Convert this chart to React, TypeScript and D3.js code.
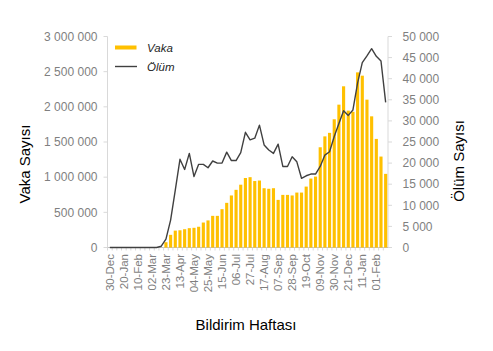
import React from "react";
import * as d3 from "d3";

// weekly notification weeks (30-Dec-2019 .. 15-Feb-2021)
const weeks = [
  "30-Dec", "06-Jan", "13-Jan", "20-Jan", "27-Jan", "03-Feb", "10-Feb", "17-Feb", "24-Feb", "02-Mar",
  "09-Mar", "16-Mar", "23-Mar", "30-Mar", "06-Apr", "13-Apr", "20-Apr", "27-Apr", "04-May", "11-May",
  "18-May", "25-May", "01-Jun", "08-Jun", "15-Jun", "22-Jun", "29-Jun", "06-Jul", "13-Jul", "20-Jul",
  "27-Jul", "03-Aug", "10-Aug", "17-Aug", "24-Aug", "31-Aug", "07-Sep", "14-Sep", "21-Sep", "28-Sep",
  "05-Oct", "12-Oct", "19-Oct", "26-Oct", "02-Nov", "09-Nov", "16-Nov", "23-Nov", "30-Nov", "07-Dec",
  "14-Dec", "21-Dec", "28-Dec", "04-Jan", "11-Jan", "18-Jan", "25-Jan", "01-Feb", "08-Feb", "15-Feb",
];

const vaka = [
  0, 0, 0, 0, 0, 0, 0, 0, 0, 0,
  0, 0, 75000, 180000, 240000, 245000, 260000, 275000, 280000, 295000,
  355000, 385000, 450000, 450000, 545000, 635000, 740000, 820000, 893000, 988000,
  1000000, 945000, 952000, 843000, 835000, 843000, 677000, 748000, 748000, 740000,
  781000, 781000, 866000, 980000, 1008000, 1425000, 1580000, 1630000, 1823000, 2031000,
  2292000, 1946000, 1930000, 2490000, 2443000, 2102000, 1865000, 1544000, 1293000, 1047000,
];

const olum = [
  0, 0, 0, 0, 0, 0, 0, 0, 0, 0,
  0, 300, 2000, 6500, 13600, 20900, 18500, 22300, 16800, 19700,
  19700, 18900, 20500, 20000, 20000, 22600, 20600, 20600, 22500, 27300,
  25500, 25900, 29000, 24300, 23100, 22300, 24500, 19200, 19200, 21500,
  20300, 16400, 17000, 17400, 17400, 19200, 21900, 22700, 26300, 29400,
  32400, 31300, 32600, 39000, 43800, 45400, 47100, 45300, 44200, 34400,
];

const leftTicks = [0, 500000, 1000000, 1500000, 2000000, 2500000, 3000000];
const rightTicks = [0, 5000, 10000, 15000, 20000, 25000, 30000, 35000, 40000, 45000, 50000];

const W = 493;
const H = 351;
const plot = { left: 107.5, right: 388, top: 36.5, bottom: 247.5 };
const FONT = "'Liberation Sans', Arial, sans-serif";
const fmt = (v: number) => d3.format(",")(v).replace(/,/g, " ");

export default function App() {
  const x = d3.scaleBand<string>().domain(weeks).range([plot.left, plot.right]).paddingInner(0.33).paddingOuter(0.165);
  const xc = d3.scaleBand<string>().domain(weeks).range([plot.left, plot.right]);
  const yL = d3.scaleLinear().domain([0, 3000000]).range([plot.bottom, plot.top]);
  const yR = d3.scaleLinear().domain([0, 50000]).range([plot.bottom, plot.top]);

  const line = d3
    .line<number>()
    .x((_, i) => (xc(weeks[i]) as number) + xc.bandwidth() / 2)
    .y((d) => yR(d));

  return (
    <svg width={W} height={H} style={{ position: "absolute", left: 0, top: 0, background: "#fff" }}>
      {/* left axis */}
      <line x1={plot.left} x2={plot.left} y1={plot.top} y2={plot.bottom} stroke="#d9d9d9" />
      {leftTicks.map((t) => (
        <g key={"l" + t}>
          <line x1={plot.left - 4} x2={plot.left} y1={yL(t)} y2={yL(t)} stroke="#d9d9d9" />
          <text x={97.5} y={yL(t)} dy="0.35em" textAnchor="end" fontFamily={FONT} fontSize={12} fill="#7f7f7f">
            {fmt(t)}
          </text>
        </g>
      ))}
      {/* right axis */}
      <line x1={plot.right} x2={plot.right} y1={plot.top} y2={plot.bottom} stroke="#d9d9d9" />
      {rightTicks.map((t) => (
        <g key={"r" + t}>
          <line x1={plot.right} x2={plot.right + 4} y1={yR(t)} y2={yR(t)} stroke="#d9d9d9" />
          <text x={402.5} y={yR(t)} dy="0.35em" textAnchor="start" fontFamily={FONT} fontSize={12} fill="#7f7f7f">
            {fmt(t)}
          </text>
        </g>
      ))}
      {/* x axis */}
      <line x1={plot.left} x2={plot.right} y1={plot.bottom} y2={plot.bottom} stroke="#bfbfbf" />
      {weeks.map((w, i) => (
        <line
          key={"t" + w + i}
          x1={xc(w) as number}
          x2={xc(w) as number}
          y1={plot.bottom}
          y2={plot.bottom + 3}
          stroke="#d9d9d9"
        />
      ))}
      {weeks.map((w, i) =>
        i % 3 === 0 ? (
          <text
            key={"x" + w + i}
            transform={`translate(${(xc(w) as number) + xc.bandwidth() / 2},${254}) rotate(-90)`}
            dy="0.35em"
            textAnchor="end"
            fontFamily={FONT}
            fontSize={11.5}
            fill="#7f7f7f"
          >
            {w}
          </text>
        ) : null
      )}
      {/* bars */}
      {vaka.map((v, i) => (
        <rect
          key={"b" + i}
          x={x(weeks[i]) as number}
          y={yL(v)}
          width={x.bandwidth()}
          height={plot.bottom - yL(v)}
          fill="#ffc000"
        />
      ))}
      {/* deaths line */}
      <path d={line(olum) as string} fill="none" stroke="#404040" strokeWidth={1.4} strokeLinejoin="round" />
      {/* legend */}
      <rect x={115} y={45.5} width={21.5} height={4} fill="#ffc000" />
      <text x={147} y={47.5} dy="0.35em" fontFamily={FONT} fontSize={11.5} fontStyle="italic" fill="#262626">
        Vaka
      </text>
      <line x1={115} x2={137} y1={66.5} y2={66.5} stroke="#404040" strokeWidth={1.4} />
      <text x={147} y={66.5} dy="0.35em" fontFamily={FONT} fontSize={11.5} fontStyle="italic" fill="#262626">
        Ölüm
      </text>
      {/* axis titles */}
      <text
        transform={`translate(25,${164}) rotate(-90)`}
        dy="0.35em"
        textAnchor="middle"
        fontFamily={FONT}
        fontSize={15}
        fill="#000"
      >
        Vaka Sayısı
      </text>
      <text
        transform={`translate(459,${161}) rotate(-90)`}
        dy="0.35em"
        textAnchor="middle"
        fontFamily={FONT}
        fontSize={15}
        fill="#000"
      >
        Ölüm Sayısı
      </text>
      <text x={246} y={325} dy="0.35em" textAnchor="middle" fontFamily={FONT} fontSize={15} fill="#000">
        Bildirim Haftası
      </text>
    </svg>
  );
}
